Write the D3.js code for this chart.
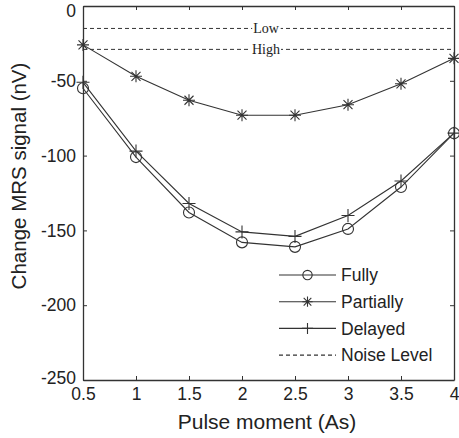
<!DOCTYPE html>
<html><head><meta charset="utf-8">
<script src="https://cdn.jsdelivr.net/npm/d3@7"></script>
<style>body{margin:0;background:#fff}svg{display:block}</style>
</head><body><svg id="c" width="459" height="438"></svg>
<script>
const pulse = [0.5, 1, 1.5, 2, 2.5, 3, 3.5, 4];
const fully = [-55, -101, -138, -158, -161, -149, -121, -85];
const partially = [-26, -47, -63, -73, -73, -66, -52, -35];
const delayed = [-51, -97, -132, -151, -154, -140, -117, -85];
const noiseLevels = [-15, -29];
const noiseLabels = ["Low", "High"];
const xTicks = [0.5, 1, 1.5, 2, 2.5, 3, 3.5, 4];
const yTicks = [0, -50, -100, -150, -200, -250];
const legendLabels = ["Fully", "Partially", "Delayed", "Noise Level"];

const svg = d3.select("#c");
const L = 83, R = 454, T = 6, B = 380;
const x = d3.scaleLinear().domain([0.5, 4]).range([L, R]);
const y = d3.scaleLinear().domain([-250, 0]).range([B, T]);
const col = "#333";
const font = "Liberation Sans, Arial, sans-serif";

// axes
const gx = svg.append("g").attr("transform", `translate(0,${B})`)
  .call(d3.axisBottom(x).tickValues(xTicks).tickSizeInner(-4).tickSizeOuter(0).tickPadding(8).tickFormat(d => String(d)));
const gxt = svg.append("g").attr("transform", `translate(0,${T})`)
  .call(d3.axisTop(x).tickValues(xTicks).tickSizeInner(-4).tickSizeOuter(0).tickFormat(""));
const gy = svg.append("g").attr("transform", `translate(${L},0)`)
  .call(d3.axisLeft(y).tickValues(yTicks).tickSizeInner(-4).tickSizeOuter(0).tickPadding(7).tickFormat(d => String(d)));
const gyr = svg.append("g").attr("transform", `translate(${R},0)`)
  .call(d3.axisRight(y).tickValues(yTicks).tickSizeInner(-4).tickSizeOuter(0).tickFormat(""));
[gx, gxt, gy, gyr].forEach(g => {
  g.selectAll("path").attr("stroke", col).attr("stroke-width", 1.3);
  g.selectAll("line").attr("stroke", col).attr("stroke-width", 1);
  g.selectAll("text").attr("fill", "#222").style("font-family", font).style("font-size", "17.5px");
});
gy.selectAll(".tick text").filter(d => d === 0).attr("dy", "0.58em");
gy.selectAll(".tick text").filter(d => d === -250).attr("dy", "0.2em");

// noise lines
noiseLevels.forEach((v, i) => {
  svg.append("line").attr("x1", L).attr("x2", R).attr("y1", y(v)).attr("y2", y(v))
    .attr("stroke", col).attr("stroke-width", 1).attr("stroke-dasharray", "4,3");
  const t = svg.append("text").attr("x", 266).attr("y", y(v)).attr("dy", "0.35em")
    .attr("text-anchor", "middle").style("font-family", "Liberation Serif, Times New Roman, serif")
    .style("font-size", "14px").attr("fill", "#222").text(noiseLabels[i]);
  const bb = t.node().getBBox();
  const r = document.createElementNS("http://www.w3.org/2000/svg", "rect");
  r.setAttribute("x", bb.x - 1); r.setAttribute("y", y(v) - 2);
  r.setAttribute("width", bb.width + 2); r.setAttribute("height", 4); r.setAttribute("fill", "#fff");
  t.node().parentNode.insertBefore(r, t.node());
});

const line = d3.line().x((d, i) => x(pulse[i])).y(d => y(d));
function drawSeries(vals, marker) {
  svg.append("path").datum(vals).attr("d", line).attr("fill", "none").attr("stroke", col).attr("stroke-width", 1.1);
  vals.forEach((v, i) => marker(x(pulse[i]), y(v), 1));
}
function circ(cx, cy, k) {
  svg.append("circle").attr("cx", cx).attr("cy", cy).attr("r", 5.5 * k).attr("fill", "none").attr("stroke", col).attr("stroke-width", 1.1);
}
function star(cx, cy, k) {
  const s = 6 * k, d = 4.5 * k;
  const p = `M${cx - s},${cy}L${cx + s},${cy}M${cx},${cy - s}L${cx},${cy + s}M${cx - d},${cy - d}L${cx + d},${cy + d}M${cx - d},${cy + d}L${cx + d},${cy - d}`;
  svg.append("path").attr("d", p).attr("stroke", col).attr("stroke-width", 1.1).attr("fill", "none");
}
function plus(cx, cy, k) {
  const s = 6.5 * k;
  svg.append("path").attr("d", `M${cx - s},${cy}L${cx + s},${cy}M${cx},${cy - s}L${cx},${cy + s}`).attr("stroke", col).attr("stroke-width", 1.1);
}
drawSeries(partially, star);
drawSeries(delayed, plus);
drawSeries(fully, circ);

// legend
const lx1 = 279, lx2 = 336, ly0 = 275, ldy = 26.7;
const markers = [circ, star, plus, null];
legendLabels.forEach((lab, i) => {
  const yy = ly0 + i * ldy;
  svg.append("line").attr("x1", lx1).attr("x2", lx2).attr("y1", yy).attr("y2", yy)
    .attr("stroke", col).attr("stroke-width", 1.1).attr("stroke-dasharray", i === 3 ? "4,3" : null);
  if (markers[i]) markers[i]((lx1 + lx2) / 2, yy, 0.85);
  svg.append("text").attr("x", 341).attr("y", yy).attr("dy", "0.36em")
    .style("font-family", font).style("font-size", "17.5px").attr("fill", "#222").text(lab);
});

// titles
svg.append("text").attr("x", 267).attr("y", 429).attr("text-anchor", "middle")
  .style("font-family", font).style("font-size", "21px").attr("fill", "#222").text("Pulse moment (As)");
svg.append("text").attr("transform", `translate(26,176) rotate(-90)`).attr("text-anchor", "middle")
  .style("font-family", font).style("font-size", "20.5px").attr("fill", "#222").text("Change MRS signal (nV)");
</script></body></html>
